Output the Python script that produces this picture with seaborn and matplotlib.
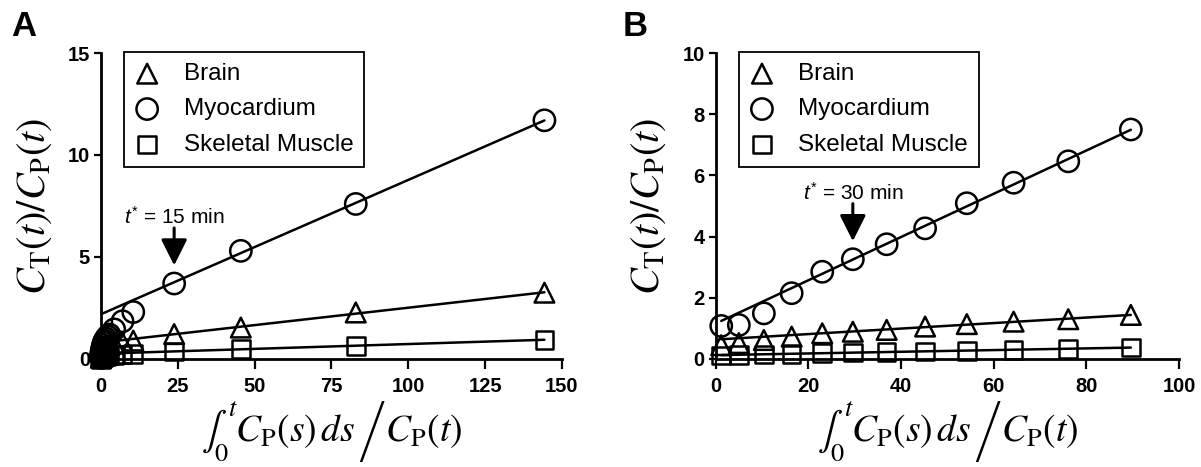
import numpy as np
import matplotlib
matplotlib.use("Agg")
import matplotlib.pyplot as plt
import seaborn as sns

# ==================== DATA ====================
TISSUES = ['Brain', 'Myocardium', 'Skeletal Muscle']
MARKERS = {'Brain': '^', 'Myocardium': 'o', 'Skeletal Muscle': 's'}
MSIZE = {'Brain': 200, 'Myocardium': 235, 'Skeletal Muscle': 160}

# panel A : t* = 15 min
x_a = [0.02, 0.05, 0.08, 0.14, 0.2, 0.3, 0.45, 0.65, 0.9, 1.2, 1.6, 2.1, 2.7,
       4.3, 7.0, 10.5, 23.8, 45.5, 82.9, 144.3]
brain_a = [0.05, 0.1, 0.15, 0.22, 0.3, 0.35, 0.4, 0.45, 0.5, 0.55, 0.6, 0.64, 0.68,
           0.75, 0.8, 0.9, 1.22, 1.54, 2.28, 3.25]
myo_a = [0.05, 0.12, 0.2, 0.28, 0.35, 0.45, 0.55, 0.68, 0.8, 0.9, 1.0, 1.1, 1.2,
         1.45, 1.85, 2.3, 3.7, 5.3, 7.6, 11.7]
skm_a = [0.01, 0.02, 0.04, 0.05, 0.07, 0.08, 0.1, 0.11, 0.13, 0.14, 0.16, 0.17, 0.18,
         0.2, 0.22, 0.24, 0.36, 0.49, 0.65, 0.94]
tstar_a = 15
fit_from_a = 16   # first point at t >= t*

# panel B : t* = 30 min
x_b = [1.2, 5.0, 10.4, 16.4, 23.0, 29.6, 36.9, 45.2, 54.2, 64.3, 76.1, 89.6]
brain_b = [0.45, 0.52, 0.62, 0.73, 0.84, 0.89, 0.95, 1.06, 1.14, 1.22, 1.30, 1.44]
myo_b = [1.08, 1.11, 1.49, 2.15, 2.85, 3.26, 3.75, 4.27, 5.09, 5.76, 6.46, 7.5]
skm_b = [0.12, 0.13, 0.15, 0.17, 0.19, 0.21, 0.23, 0.25, 0.27, 0.30, 0.33, 0.38]
tstar_b = 30
fit_from_b = 5

XTICKS_A = [0, 25, 50, 75, 100, 125, 150]
YTICKS_A = [0, 5, 10, 15]
XTICKS_B = [0, 20, 40, 60, 80, 100]
YTICKS_B = [0, 2, 4, 6, 8, 10]

# ==================== STYLE ====================
sns.set_theme(style='ticks')
plt.rcParams['font.family'] = ['Liberation Sans', 'DejaVu Sans']
plt.rcParams['mathtext.fontset'] = 'custom'
plt.rcParams['mathtext.rm'] = 'Liberation Sans'
plt.rcParams['mathtext.it'] = 'Liberation Sans:italic'
plt.rcParams['axes.linewidth'] = 2.0
for k in ['text.color', 'axes.labelcolor', 'xtick.color', 'ytick.color', 'axes.edgecolor']:
    plt.rcParams[k] = 'black'

YLABEL = r'$C_\mathrm{T}(t)/C_\mathrm{P}(t)$'
XLABEL = r'$\left.\int_0^t C_\mathrm{P}(s)\,ds\,\right/ C_\mathrm{P}(t)$'


def draw_panel(ax, x, series, fit_from, tstar, xticks, yticks):
    x = np.asarray(x)
    for name in TISSUES:
        y = np.asarray(series[name])
        # straight-line fit over the points after t*
        slope, icpt = np.polyfit(x[fit_from:], y[fit_from:], 1)
        xx = np.array([x.min(), x.max()])
        sns.lineplot(x=xx, y=slope * xx + icpt, ax=ax, color='black',
                     linewidth=1.8, zorder=2)
        sns.scatterplot(x=x, y=y, ax=ax, marker=MARKERS[name], s=MSIZE[name],
                        facecolor='none', edgecolor='black', linewidth=1.8,
                        clip_on=False, zorder=3, label=name)

    # arrow + label at t*
    px, py = x[fit_from], series['Myocardium'][fit_from]
    ax.annotate('', xy=(px, py), xycoords='data',
                xytext=(0, 40), textcoords='offset points',
                arrowprops=dict(arrowstyle='-|>,head_length=0.8,head_width=0.4',
                                mutation_scale=20, color='black', lw=2.2,
                                shrinkA=0, shrinkB=13))
    ax.annotate(r'$t^{*}$ = %d min' % tstar, xy=(px, py), xycoords='data',
                xytext=(0, 48), textcoords='offset points',
                ha='center', va='center', fontsize=15)

    ax.set_xlim(xticks[0], xticks[-1])
    ax.set_ylim(yticks[0], yticks[-1])
    ax.set_xticks(xticks)
    ax.set_yticks(yticks)
    ax.tick_params(axis='x', length=7, width=1.6, pad=6, labelsize=14.5)
    ax.tick_params(axis='y', length=5, width=1.6, pad=3, labelsize=14.5)
    for lab in ax.get_xticklabels() + ax.get_yticklabels():
        lab.set_fontweight('bold')
    sns.despine(ax=ax)

    ax.set_ylabel(YLABEL, fontsize=29, math_fontfamily='stix')
    ax.yaxis.set_label_coords(-0.102, 0.5)
    ax.set_xlabel(XLABEL, fontsize=27, math_fontfamily='stix', va='top')
    ax.xaxis.set_label_coords(0.5, -0.135)

    leg = ax.legend(loc='upper left', bbox_to_anchor=(0.05, 1.003),
                    borderaxespad=0, frameon=True, fancybox=False, framealpha=1,
                    edgecolor='black', fontsize=17.5, handlelength=1.0,
                    handletextpad=1.0, borderpad=0.45, labelspacing=0.55)
    leg.get_frame().set_linewidth(1.3)
    leg.set_zorder(5)


fig = plt.figure(figsize=(12.01, 4.67), dpi=100)
ax_a = fig.add_axes([0.0841, 0.2313, 0.3838, 0.6552])
ax_b = fig.add_axes([0.5959, 0.2313, 0.3858, 0.6552])

draw_panel(ax_a, x_a, {'Brain': brain_a, 'Myocardium': myo_a, 'Skeletal Muscle': skm_a},
           fit_from_a, tstar_a, XTICKS_A, YTICKS_A)
draw_panel(ax_b, x_b, {'Brain': brain_b, 'Myocardium': myo_b, 'Skeletal Muscle': skm_b},
           fit_from_b, tstar_b, XTICKS_B, YTICKS_B)

fig.text(24 / 1201, 1 - 26 / 467, 'A', fontsize=25, fontweight='bold',
         ha='center', va='center')
fig.text(635 / 1201, 1 - 26 / 467, 'B', fontsize=25, fontweight='bold',
         ha='center', va='center')

fig.savefig('out.png', dpi=100)
